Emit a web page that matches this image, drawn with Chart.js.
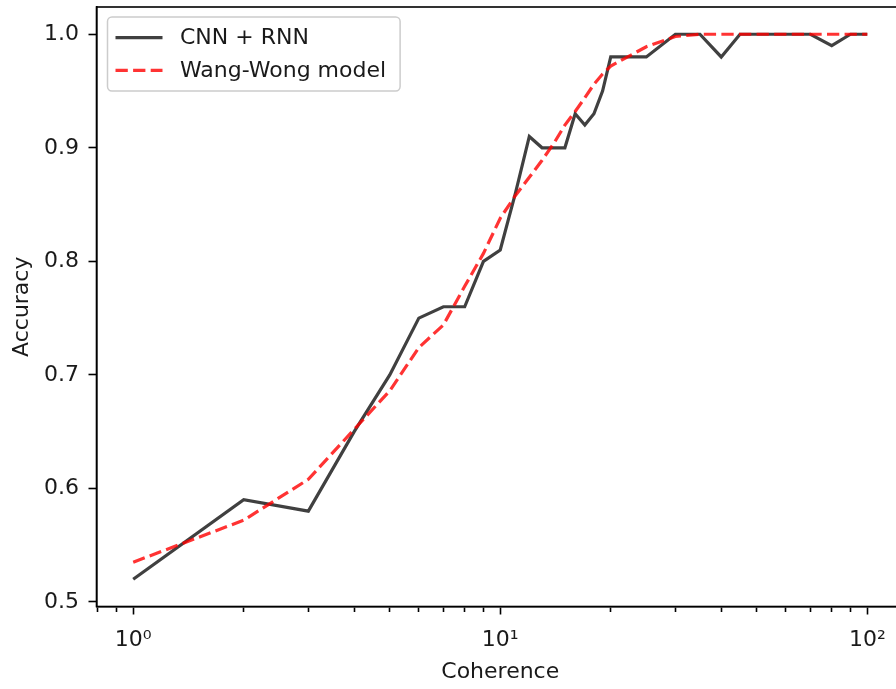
<!DOCTYPE html>
<html>
<head>
<meta charset="utf-8">
<title>Accuracy vs coherence</title>
<script src="https://cdn.jsdelivr.net/npm/chart.js@4"></script>
<style>
  html, body { margin: 0; padding: 0; background: #fff; overflow: hidden; }
  #wrap { position: relative; width: 904px; height: 689px; }
</style>
</head>
<body>
<div id="wrap"><canvas id="accChart"></canvas></div>
<script>
// coherence levels (log x axis)
const coherence = [1, 2, 3, 4, 5, 6, 7, 8, 9, 10, 11, 12, 13, 14, 15, 16, 17, 18, 19, 20, 25, 30, 35, 40, 45, 50, 60, 70, 80, 90, 100];
// CNN + RNN accuracy
const cnnRnnAcc = [0.52, 0.59, 0.58, 0.65, 0.70, 0.75, 0.76, 0.76, 0.80, 0.81, 0.86, 0.91, 0.90, 0.90, 0.90, 0.93, 0.92, 0.93, 0.95, 0.98,
                   0.98, 1.00, 1.00, 0.98, 1.00, 1.00, 1.00, 1.00, 0.99, 1.00, 1.00];
// Wang-Wong model accuracy
const wangWongAcc = [0.535, 0.572, 0.608, 0.652, 0.686, 0.724, 0.744, 0.778, 0.807, 0.838, 0.858, 0.874, 0.889, 0.904, 0.920, 0.932, 0.944, 0.956, 0.965, 0.972,
                     0.989, 0.998, 1.00, 1.00, 1.00, 1.00, 1.00, 1.00, 1.00, 1.00, 1.00];
// axis ticks
const xTicks = [0.8, 0.9, 1, 2, 3, 4, 5, 6, 7, 8, 9, 10, 20, 30, 40, 50, 60, 70, 80, 90, 100];
const xTickLabels = { 1: '10⁰', 10: '10¹', 100: '10²' };
const yTicks = [0.5, 0.6, 0.7, 0.8, 0.9, 1.0];

const FONT = 'DejaVu Sans';
const isDecade = v => Math.abs(Math.log10(v) - Math.round(Math.log10(v))) < 1e-9;

// box round the plot area
const framePlugin = {
  id: 'frame',
  afterDraw(chart) {
    const { ctx, chartArea: a } = chart;
    ctx.save();
    ctx.strokeStyle = '#000';
    ctx.lineWidth = 1.6;
    ctx.strokeRect(a.left, a.top, a.right - a.left, a.bottom - a.top);
    ctx.restore();
  }
};

// legend box in the upper left corner of the plot
const boxLegend = {
  id: 'boxLegend',
  afterDatasetsDraw(chart) {
    const { ctx, chartArea: a } = chart;
    const sets = chart.data.datasets;
    const left = a.left + 11, top = a.top + 10;
    const pad = 8, handle = 47, gap = 17.5, rowH = 32.7, firstRow = 20.6;
    ctx.save();
    ctx.font = '22px "' + FONT + '"';
    const textW = Math.max(...sets.map(d => ctx.measureText(d.label).width));
    const w = pad + handle + gap + textW + pad + 6;
    const h = firstRow * 2 + rowH * (sets.length - 1);
    const r = 4.4;
    ctx.beginPath();
    ctx.moveTo(left + r, top);
    ctx.arcTo(left + w, top, left + w, top + h, r);
    ctx.arcTo(left + w, top + h, left, top + h, r);
    ctx.arcTo(left, top + h, left, top, r);
    ctx.arcTo(left, top, left + w, top, r);
    ctx.closePath();
    ctx.fillStyle = 'rgba(255,255,255,0.8)';
    ctx.fill();
    ctx.strokeStyle = '#cccccc';
    ctx.lineWidth = 1.5;
    ctx.stroke();
    sets.forEach((d, i) => {
      const y = top + firstRow + i * rowH;
      ctx.beginPath();
      ctx.setLineDash(d.borderDash || []);
      ctx.strokeStyle = d.borderColor;
      ctx.lineWidth = d.borderWidth;
      ctx.moveTo(left + pad, y);
      ctx.lineTo(left + pad + handle, y);
      ctx.stroke();
      ctx.setLineDash([]);
      ctx.fillStyle = '#1a1a1a';
      ctx.textBaseline = 'middle';
      ctx.textAlign = 'left';
      ctx.fillText(d.label, left + pad + handle + gap, y + 1);
    });
    ctx.restore();
  }
};

const ctx = document.getElementById('accChart').getContext('2d');
new Chart(ctx, {
  type: 'line',
  data: {
    datasets: [
      {
        label: 'CNN + RNN',
        data: coherence.map((c, i) => ({ x: c, y: cnnRnnAcc[i] })),
        borderColor: 'rgba(0,0,0,0.75)',
        borderWidth: 3.2,
        pointRadius: 0,
        tension: 0,
        fill: false,
        order: 1
      },
      {
        label: 'Wang-Wong model',
        data: coherence.map((c, i) => ({ x: c, y: wangWongAcc[i] })),
        borderColor: 'rgba(255,0,0,0.8)',
        borderWidth: 3.2,
        borderDash: [12.3, 5.3],
        pointRadius: 0,
        tension: 0,
        fill: false,
        order: 0
      }
    ]
  },
  options: {
    responsive: true,
    maintainAspectRatio: false,
    animation: false,
    devicePixelRatio: 1,
    layout: { padding: { top: 7, left: 0, right: 0, bottom: 0 } },
    plugins: { legend: { display: false }, tooltip: { enabled: false } },
    scales: {
      x: {
        type: 'logarithmic',
        bounds: 'data',
        min: Math.pow(10, -0.1),
        max: Math.pow(10, 2.1),
        afterBuildTicks: scale => { scale.ticks = xTicks.map(v => ({ value: v, major: isDecade(v) })); },
        afterFit: scale => { scale.height = 82.5; scale.paddingLeft = 0; scale.paddingRight = 0; },
        ticks: {
          autoSkip: false,
          maxRotation: 0,
          padding: 13,
          color: '#1a1a1a',
          font: { family: FONT, size: 22 },
          callback: v => xTickLabels[v] || ''
        },
        grid: {
          drawOnChartArea: false,
          drawTicks: true,
          tickLength: 8,
          tickWidth: 1.6,
          tickColor: '#000',
          tickBorderDash: c => (c.tick && isDecade(c.tick.value)) ? [] : [4.4, 40]
        },
        border: { display: true, color: '#000', width: 1.6 },
        title: {
          display: true,
          text: 'Coherence',
          color: '#1a1a1a',
          font: { family: FONT, size: 22 },
          padding: { top: 0, bottom: 4 }
        }
      },
      y: {
        type: 'linear',
        bounds: 'data',
        min: 0.496,
        max: 1.024,
        afterBuildTicks: scale => { scale.ticks = yTicks.map(v => ({ value: v })); },
        afterFit: scale => { scale.width = 96.5; scale.paddingTop = 0; scale.paddingBottom = 0; },
        ticks: {
          padding: 9.5,
          color: '#1a1a1a',
          font: { family: FONT, size: 22 },
          callback: v => v.toFixed(1)
        },
        grid: {
          drawOnChartArea: false,
          drawTicks: true,
          tickLength: 8,
          tickWidth: 1.6,
          tickColor: '#000'
        },
        border: { display: true, color: '#000', width: 1.6 },
        title: {
          display: true,
          text: 'Accuracy',
          color: '#1a1a1a',
          font: { family: FONT, size: 22 },
          padding: { top: 8.8, bottom: 0 }
        }
      }
    }
  },
  plugins: [framePlugin, boxLegend]
});
</script>
</body>
</html>
